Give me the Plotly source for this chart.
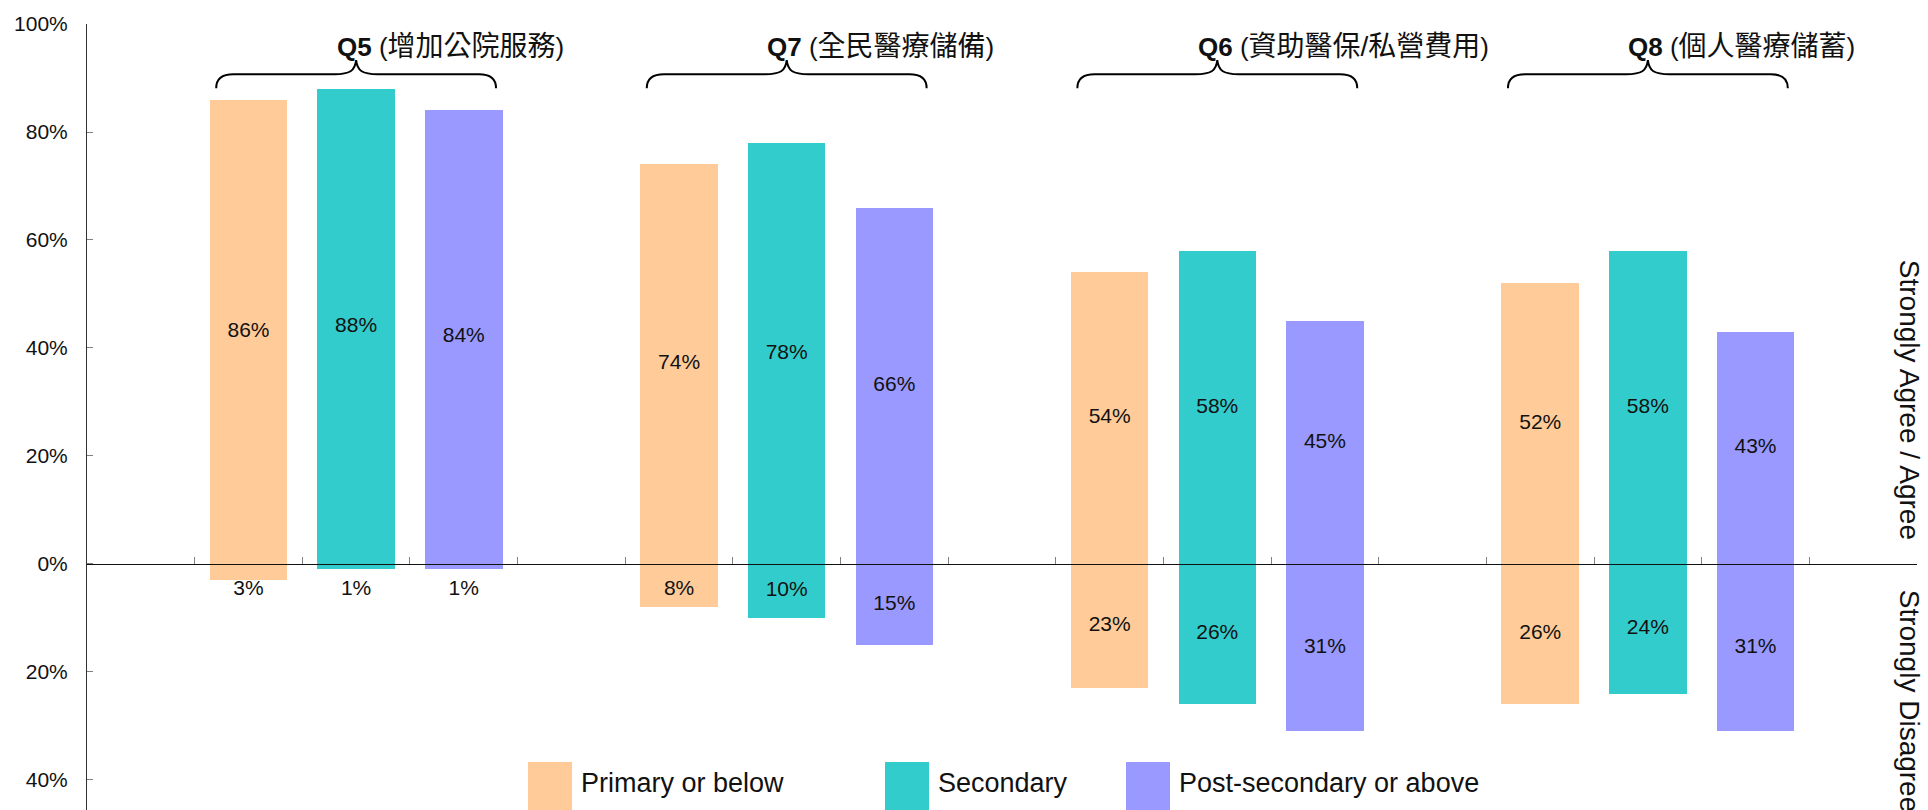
import plotly.graph_objects as go

# Survey questions (in display order) and their Chinese descriptions
questions = ["Q5", "Q7", "Q6", "Q8"]
subtitles = ["增加公院服務", "全民醫療儲備", "資助醫保/私營費用", "個人醫療儲蓄"]

# Education levels
levels = ["Primary or below", "Secondary", "Post-secondary or above"]

# Share who strongly agree / agree (%), per question
agree_primary = [86, 74, 54, 52]
agree_secondary = [88, 78, 58, 58]
agree_post = [84, 66, 45, 43]

# Share who strongly disagree / disagree (%), per question
disagree_primary = [3, 8, 23, 26]
disagree_secondary = [1, 10, 26, 24]
disagree_post = [1, 15, 31, 31]

# Y-axis ticks (negative side shown as positive percentages)
ytick_vals = [-40, -20, 0, 20, 40, 60, 80, 100]
ytick_text = ["40%", "20%", "0%", "20%", "40%", "60%", "80%", "100%"]

colors = ["#FFCC99", "#33CCCC", "#9999FF"]
FONT = "Liberation Sans, Arial, Noto Sans CJK TC, sans-serif"
Y_MIN, Y_MAX = -45.56, 100
BAR_W = 0.72
SLOTS_PER_GROUP = 4
N_SLOTS = SLOTS_PER_GROUP * len(questions) + 1

agree_by_level = [agree_primary, agree_secondary, agree_post]
disagree_by_level = [disagree_primary, disagree_secondary, disagree_post]

group_centers = [SLOTS_PER_GROUP * g + 2 for g in range(len(questions))]

fig = go.Figure()

for k, level in enumerate(levels):
    xs = [c + (k - 1) for c in group_centers]
    agree = agree_by_level[k]
    disagree = disagree_by_level[k]
    fig.add_trace(go.Bar(
        x=xs, y=agree, width=BAR_W, marker=dict(color=colors[k], line=dict(width=0)),
        name=level, showlegend=False, hoverinfo="skip",
    ))
    fig.add_trace(go.Bar(
        x=xs, y=[-v for v in disagree], width=BAR_W,
        marker=dict(color=colors[k], line=dict(width=0)),
        name=level, showlegend=False, hoverinfo="skip",
    ))
    # value labels centred in each bar (small negative bars keep a minimum offset)
    fig.add_trace(go.Scatter(
        x=xs + xs,
        y=[v / 2 for v in agree] + [-max(v / 2, 4.8) for v in disagree],
        text=[f"{v}%" for v in agree] + [f"{v}%" for v in disagree],
        mode="text", textposition="middle center",
        textfont=dict(family=FONT, size=21, color="#111111"),
        showlegend=False, hoverinfo="skip",
    ))

shapes = []
annotations = []

# Curly braces and question titles above each group
y_end, y_line, y_peak = 88.1, 90.7, 93.3
for c, q, sub in zip(group_centers, questions, subtitles):
    x0, x1 = c - 1.3, c + 1.3
    path = (
        f"M {x0},{y_end} Q {x0},{y_line} {x0 + 0.16},{y_line} "
        f"L {c - 0.2},{y_line} C {c - 0.06},{y_line} {c - 0.01},{y_line + 0.6} {c},{y_peak} "
        f"C {c + 0.01},{y_line + 0.6} {c + 0.06},{y_line} {c + 0.2},{y_line} "
        f"L {x1 - 0.16},{y_line} Q {x1},{y_line} {x1},{y_end}"
    )
    shapes.append(dict(type="path", path=path, xref="x", yref="y",
                       line=dict(color="black", width=2)))
    annotations.append(dict(
        x=c - 0.2, y=95.8, xref="x", yref="y", xanchor="left", yanchor="middle",
        text=f"<b>{q}</b> (<span style='font-size:28px'>{sub}</span>)",
        showarrow=False, font=dict(family=FONT, size=26, color="#111111"),
    ))

# Plot-area pixel frame, used to place side captions and the legend
PLOT_L, PLOT_R = 87, 1917
PLOT_T, PLOT_B = 24, 810


def px_to_paper_x(px):
    return (px - PLOT_L) / (PLOT_R - PLOT_L)


def px_to_paper_y(py):
    return (PLOT_B - py) / (PLOT_B - PLOT_T)


# Side captions
annotations.append(dict(
    x=px_to_paper_x(1909), y=30.4, xref="paper", yref="y", text="Strongly Agree / Agree",
    textangle=90, showarrow=False, xanchor="center", yanchor="middle",
    font=dict(family=FONT, size=28, color="#111111"),
))
annotations.append(dict(
    x=px_to_paper_x(1909), y=-4.3, xref="paper", yref="y", text="Strongly Disagree",
    textangle=90, showarrow=False, xanchor="center", yanchor="top",
    font=dict(family=FONT, size=28, color="#111111"),
))

# Legend drawn as large swatches with labels
legend_left = [528, 885, 1126]
for k, level in enumerate(levels):
    lx = legend_left[k]
    shapes.append(dict(
        type="rect", xref="paper", yref="paper",
        x0=px_to_paper_x(lx), x1=px_to_paper_x(lx + 44),
        y0=-0.02, y1=px_to_paper_y(762),
        fillcolor=colors[k], line=dict(width=0), layer="above",
    ))
    annotations.append(dict(
        x=px_to_paper_x(lx + 51), y=px_to_paper_y(783), xref="paper", yref="paper",
        xanchor="left", yanchor="middle", text=level, showarrow=False,
        font=dict(family=FONT, size=27, color="#111111"),
    ))

zero_pos = (0 - Y_MIN) / (Y_MAX - Y_MIN)

fig.update_layout(
    width=1928, height=810,
    margin=dict(l=PLOT_L, r=1928 - PLOT_R, t=PLOT_T, b=0, pad=0),
    paper_bgcolor="white", plot_bgcolor="white",
    barmode="overlay", bargap=0,
    font=dict(family=FONT, size=21, color="#111111"),
    shapes=shapes, annotations=annotations,
    showlegend=False,
    xaxis=dict(
        range=[-0.5, N_SLOTS - 0.5], tickmode="linear", tick0=-0.5, dtick=1,
        ticks="inside", ticklen=7, tickwidth=1, tickcolor="#808080",
        showticklabels=False, showgrid=False, zeroline=False,
        showline=True, linecolor="#111111", linewidth=1,
        anchor="free", position=zero_pos, side="bottom",
    ),
    yaxis=dict(
        range=[Y_MIN, Y_MAX], tickvals=ytick_vals, ticktext=ytick_text,
        ticks="inside", ticklen=6, tickwidth=1, tickcolor="#808080",
        showgrid=False, zeroline=False, showline=True,
        linecolor="#333333", linewidth=1, ticklabelstandoff=14,
        tickfont=dict(family=FONT, size=21, color="#111111"),
    ),
)

fig.write_html("out.html", config={"displayModeBar": False})
